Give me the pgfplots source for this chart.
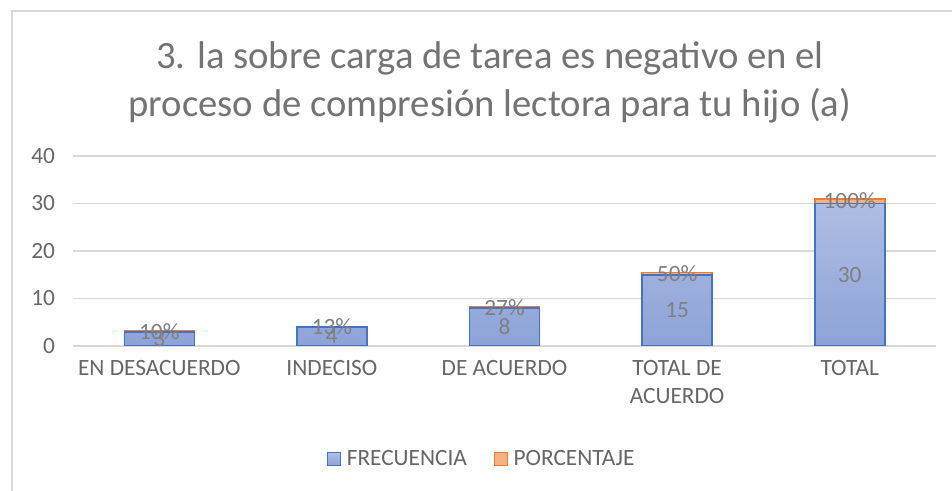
\documentclass[border=0pt]{standalone}
\usepackage{fontspec}
\setmainfont{Carlito}
\usepackage{pgfplots}
\pgfplotsset{compat=1.18}
\definecolor{titlegray}{HTML}{737373}
\definecolor{txtgray}{HTML}{666666}
\definecolor{lblgray}{HTML}{7F7F7F}
\definecolor{gridgray}{HTML}{D9D9D9}
\definecolor{barblue}{HTML}{4472C4}
\definecolor{bluetop}{HTML}{AEBDE3}
\definecolor{bluebot}{HTML}{8DA3D7}
\definecolor{barorange}{HTML}{ED7D31}
\definecolor{orangefill}{HTML}{F4B183}
\tikzset{lbl/.style={font=\fontsize{17.5}{21}\selectfont, text=lblgray}}

\begin{document}
\begin{tikzpicture}
% picture is 952 x 491 px, 1 px = 0.75pt
\useasboundingbox (0pt,0pt) rectangle (714pt,368.25pt);
\draw[gridgray, line width=0.9pt] (9pt,0pt) -- (9pt,360pt) -- (714pt,360pt);
\node[font=\fontsize{29}{36}\selectfont, text=titlegray, align=center] at (367.5pt,306.75pt)
  {3. la sobre carga de tarea es negativo en el\\proceso de compresión lectora para tu hijo (a)};
\begin{axis}[
  at={(54.75pt,108.75pt)}, anchor=south west,
  scale only axis, width=647.25pt, height=142.5pt,
  ybar stacked, bar width=52.5pt,
  xmin=-0.5, xmax=4.5, ymin=0, ymax=40,
  ytick={0,10,...,40}, xtick={0,...,4},
  xticklabels={EN DESACUERDO, INDECISO, DE ACUERDO, {TOTAL DE\\ACUERDO}, TOTAL},
  axis line style={draw=none},
  ymajorgrids, grid style={gridgray, line width=1.1pt},
  major tick length=0pt,
  tick label style={font=\fontsize{17.5}{21.5}\selectfont, text=txtgray},
  /pgf/number format/assume math mode=true,
  xticklabel style={align=center, yshift=-7pt},
  yticklabel style={xshift=-10pt},
  legend style={at={(0.474,-0.595)}, anchor=center, draw=none,
    legend columns=2, font=\fontsize{17.5}{21}\selectfont, text=txtgray,
    /tikz/every odd column/.append style={column sep=2pt},
    /tikz/every even column/.append style={column sep=18pt}},
  legend image code/.code={\draw[#1, line width=1.1pt] (0pt,-4.9pt) rectangle (9.8pt,4.9pt);},
]
\addplot[draw=barblue, line width=1.2pt, top color=bluetop, bottom color=bluebot]
  coordinates {(0,3) (1,4) (2,8) (3,15) (4,30)};
\addlegendentry{FRECUENCIA}
\addplot[draw=barorange, line width=1.2pt, fill=orangefill]
  coordinates {(0,0.1) (1,0.13) (2,0.27) (3,0.5) (4,1)};
\addlegendentry{PORCENTAJE}
\coordinate (f0) at (axis cs:0,1.5);
\coordinate (f1) at (axis cs:1,2);
\coordinate (f2) at (axis cs:2,4);
\coordinate (f3) at (axis cs:3,7.5);
\coordinate (f4) at (axis cs:4,15);
\coordinate (p0) at (axis cs:0,3.05);
\coordinate (p1) at (axis cs:1,4.07);
\coordinate (p2) at (axis cs:2,8.13);
\coordinate (p3) at (axis cs:3,15.25);
\coordinate (p4) at (axis cs:4,30.5);
\end{axis}
% data labels, on top of the bars
\node[lbl] at (f0) {3};
\node[lbl] at (f1) {4};
\node[lbl] at (f2) {8};
\node[lbl] at (f3) {15};
\node[lbl] at (f4) {30};
\node[lbl] at (p0) {10\%};
\node[lbl] at (p1) {13\%};
\node[lbl] at (p2) {27\%};
\node[lbl] at (p3) {50\%};
\node[lbl] at (p4) {100\%};
\end{tikzpicture}
\end{document}
